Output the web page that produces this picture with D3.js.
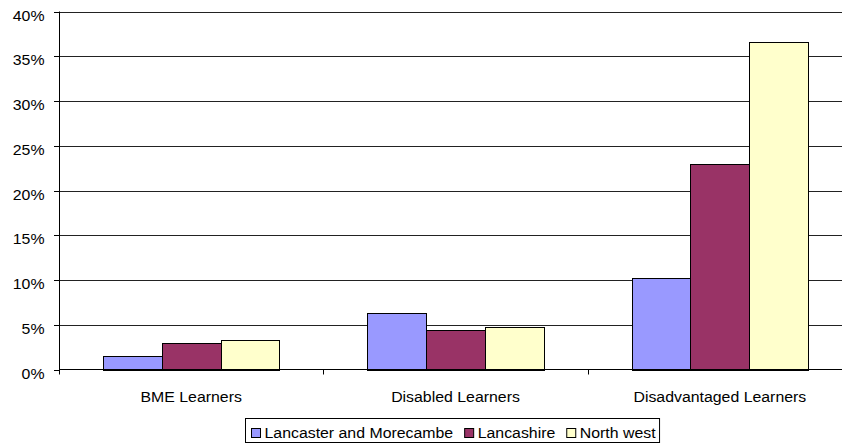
<!DOCTYPE html>
<html>
<head>
<meta charset="utf-8">
<script src="https://cdn.jsdelivr.net/npm/d3@7"></script>
<style>
  html, body { margin: 0; padding: 0; background: #fff; }
  svg { display: block; }
  text { font-family: "Liberation Sans", Arial, sans-serif; fill: #000; }
</style>
</head>
<body>
<svg id="chart" width="842" height="443"></svg>
<script>
const categories = ["BME Learners", "Disabled Learners", "Disadvantaged Learners"];
const seriesNames = ["Lancaster and Morecambe", "Lancashire", "North west"];
const lancasterMorecambe = [1.5, 6.35, 10.25];
const lancashire = [2.95, 4.4, 22.95];
const northWest = [3.3, 4.75, 36.6];
const yTicks = [0, 5, 10, 15, 20, 25, 30, 35, 40];
const seriesColors = ["#9999FF", "#993366", "#FFFFCC"];

const seriesValues = [lancasterMorecambe, lancashire, northWest];

const svg = d3.select("#chart");
const FS = 14.3, SX = 1.11;

const x = d3.scaleBand().domain(categories).range([59, 852]).paddingInner(0).paddingOuter(0);
const xs = d3.scaleBand().domain(seriesNames).range([0, x.bandwidth()]).paddingInner(0).paddingOuter(0.75);
const y = d3.scaleLinear().domain([0, 40]).range([369.5, 11.5]);

// gridlines
svg.append("g").selectAll("line").data(yTicks.filter(d => d > 0)).join("line")
  .attr("x1", 59).attr("x2", 842)
  .attr("y1", d => Math.round(y(d)) + 0.5).attr("y2", d => Math.round(y(d)) + 0.5)
  .attr("stroke", "#222").attr("stroke-width", 1);

// bars
const groups = svg.append("g").selectAll("g").data(seriesNames).join("g")
  .attr("fill", (d, i) => seriesColors[i]);
groups.selectAll("rect")
  .data((s, si) => categories.map((c, ci) => ({ c, s, v: seriesValues[si][ci] })))
  .join("rect")
  .attr("x", d => Math.round(x(d.c) + xs(d.s)) + 0.5)
  .attr("width", d => Math.round(x(d.c) + xs(d.s) + xs.bandwidth()) - Math.round(x(d.c) + xs(d.s)))
  .attr("y", d => Math.round(y(d.v)) + 0.5)
  .attr("height", d => Math.round(y(0)) - Math.round(y(d.v)))
  .attr("stroke", "#000").attr("stroke-width", 1);

// y axis
const yAxis = svg.append("g");
yAxis.append("line").attr("x1", 59.5).attr("x2", 59.5).attr("y1", y(40)).attr("y2", y(0) + 0.5)
  .attr("stroke", "#000");
yAxis.selectAll("line.t").data(yTicks).join("line").attr("class", "t")
  .attr("x1", 54).attr("x2", 59.5)
  .attr("y1", d => Math.round(y(d)) + 0.5).attr("y2", d => Math.round(y(d)) + 0.5)
  .attr("stroke", "#000");
yAxis.selectAll("text").data(yTicks).join("text")
  .attr("transform", d => `translate(44.5,${y(d) + 9.2}) scale(${SX},1)`)
  .attr("text-anchor", "end").attr("font-size", FS)
  .text(d => d + "%");

// x axis
const xAxis = svg.append("g");
xAxis.append("line").attr("x1", 59).attr("x2", 842).attr("y1", 369.5).attr("y2", 369.5).attr("stroke", "#000");
const xTickPos = categories.map(c => x(c)).concat([x.range()[1]]);
xAxis.selectAll("line.t").data(xTickPos).join("line").attr("class", "t")
  .attr("x1", d => Math.round(d) + 0.5).attr("x2", d => Math.round(d) + 0.5)
  .attr("y1", 369.5).attr("y2", 374.5).attr("stroke", "#000");
xAxis.selectAll("text").data(categories).join("text")
  .attr("transform", d => `translate(${x(d) + x.bandwidth() / 2},401.5) scale(${SX},1)`)
  .attr("text-anchor", "middle").attr("font-size", FS)
  .text(d => d);

// legend
const legend = svg.append("g");
const box = legend.append("rect").attr("x", 245.5).attr("y", 418.5).attr("height", 24)
  .attr("fill", "#fff").attr("stroke", "#000");
let cx = 251;
seriesNames.forEach((name, i) => {
  legend.append("rect").attr("x", cx + 0.5).attr("y", 428.5).attr("width", 9).attr("height", 9)
    .attr("fill", seriesColors[i]).attr("stroke", "#000");
  const t = legend.append("text")
    .attr("transform", `translate(${cx + 13.5},438.3) scale(${SX},1)`)
    .attr("font-size", FS).text(name);
  const w = t.node().getComputedTextLength() * SX;
  cx = cx + 13.5 + w + (i < seriesNames.length - 1 ? 11 : 4);
});
box.attr("width", cx - 245.5);
</script>
</body>
</html>
